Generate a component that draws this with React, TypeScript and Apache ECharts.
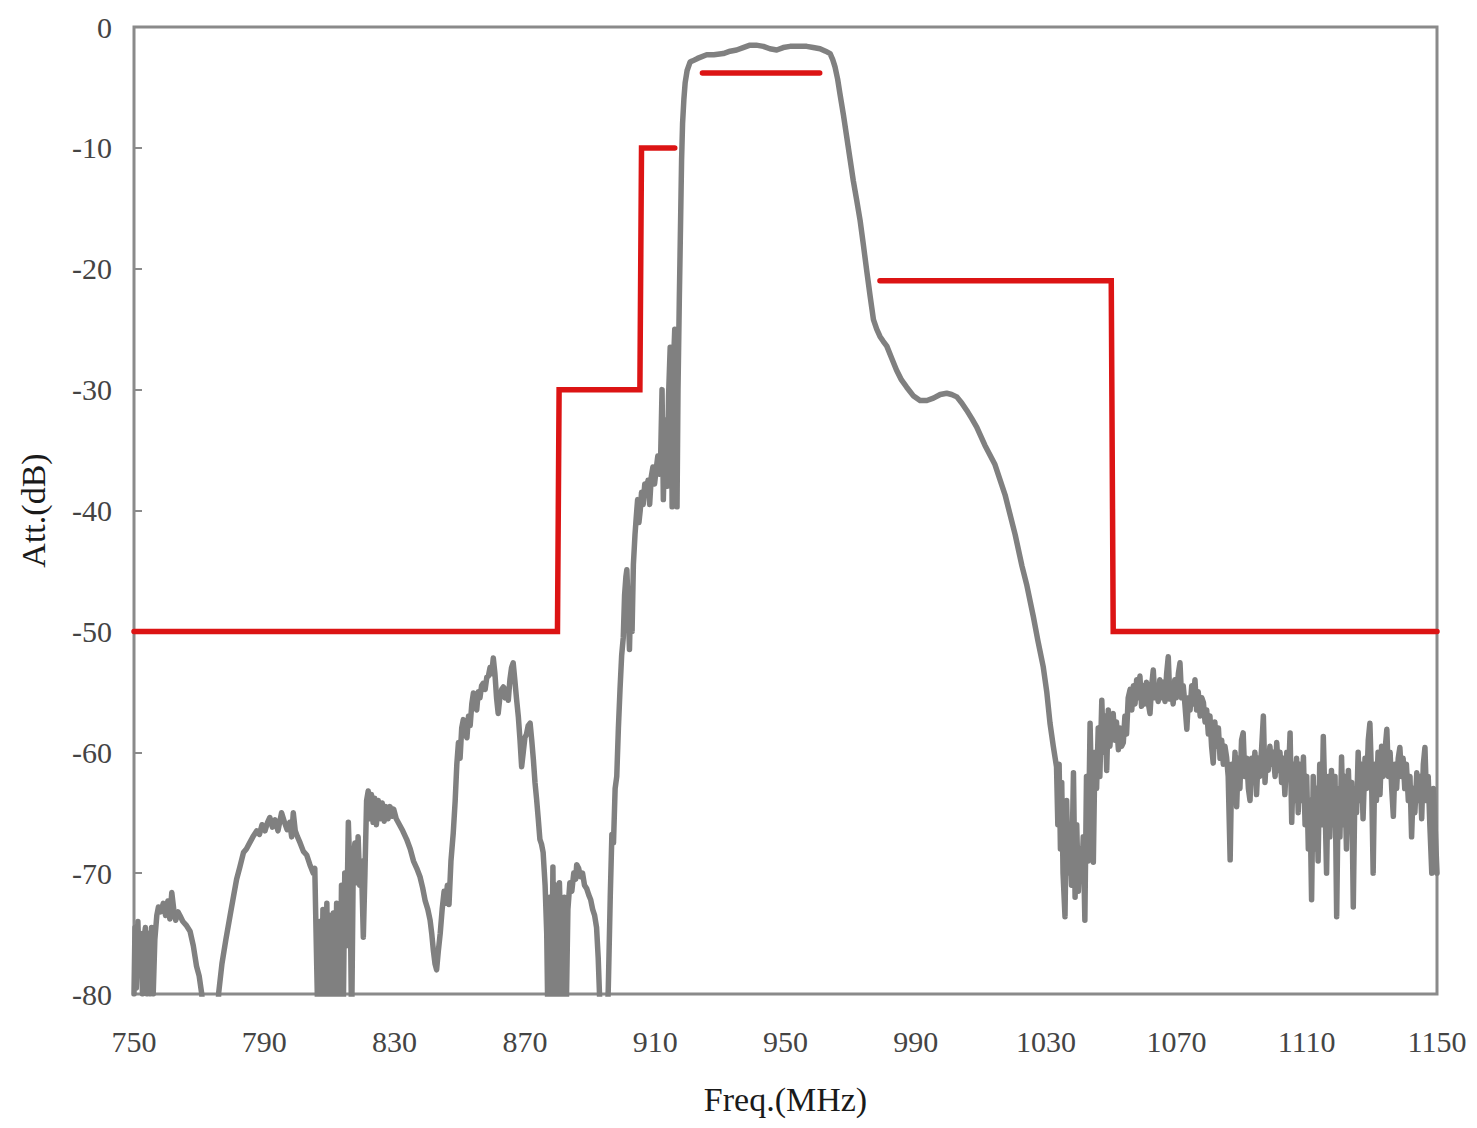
import React, { useEffect, useRef } from "react";
import * as echarts from "echarts";

const xTicks = { min: 750, max: 1150, interval: 40 };
const yTicks = { min: -80, max: 0, interval: 10 };

// Mask limit lines (Freq MHz, Att dB)
const maskStairs: [number, number][] = [
  [750, -50], [880, -50], [880.5, -30], [905.3, -30], [905.8, -10], [916, -10],
];
const maskPassband: [number, number][] = [
  [924.5, -3.8], [960.5, -3.8],
];
const maskUpper: [number, number][] = [
  [979, -21], [1050, -21], [1050.6, -50], [1150, -50],
];

// Measured response (Freq MHz, Att dB)
const responseA: [number, number][] = [
  [750.0,-80],[750.3,-74.5],[750.7,-79.5],[751.2,-74],[751.6,-78],[752.1,-75],[752.6,-80],[753.0,-75.5],[753.5,-74.5],[754.0,-80],[754.4,-75],[754.9,-80],[755.4,-74.5],[755.9,-80],[756.4,-75.5],[757.0,-73.5],[757.5,-72.8],[758.2,-73.2],[759.0,-72.5],[759.7,-73.5],[760.4,-72.3],[761.0,-73.8],[761.6,-71.6],[762.2,-73],[762.8,-73.9],[763.5,-73.2],[764.1,-73.5],[765.0,-74],[766.0,-74.3],[767.2,-74.8],[768.2,-76],[769.2,-77.7],[770.0,-78.5],[770.8,-80],[771.5,-83],
  [775.5,-83],[776.0,-79.9],[777.0,-77.5],[778.2,-75.5],[779.5,-73.5],[780.5,-72],[781.5,-70.5],[782.5,-69.5],[783.6,-68.3],[784.5,-68],[785.5,-67.5],[786.5,-67],[787.7,-66.5],[788.5,-66.8],[789.3,-66],[790.2,-66.5],[791.0,-65.8],[791.7,-65.4],[792.5,-66.2],[793.3,-65.6],[794.2,-66.5],[795.3,-65.0],[796.2,-65.8],[797.0,-66.4],[797.8,-65.8],[798.4,-67],[798.9,-65.0],[799.5,-66.5],[800.2,-67],[801.0,-67.5],[802.0,-68.2],[803.0,-68.5],[804.0,-69.3],[805.0,-70],[805.5,-69.6],[806.1,-77.8],
];
const responseB: [number, number][] = [
  [806.5,-83],[807.0,-74],[807.5,-83],[808.0,-73],[808.5,-83],[809.2,-72.5],[809.7,-83],[810.2,-73.5],[810.7,-83],[811.2,-73.3],[811.7,-83],[812.2,-72.5],[812.7,-76],[813.2,-83],[813.7,-71],[814.2,-83],[814.7,-70],[815.2,-76],[815.8,-65.8],[816.3,-70],[816.8,-83],
  [817.3,-69.5],[817.8,-67.5],[818.3,-70.8],[818.8,-67],[819.3,-71],[819.8,-69],[820.4,-75.3],[820.9,-70],[821.4,-64],[821.9,-63.2],[822.4,-65.5],[822.9,-63.5],[823.4,-65.8],[823.9,-63.8],[824.4,-66],[825.0,-64],[825.6,-65.5],[826.2,-64.2],[826.8,-65.7],[827.4,-64.5],[828.0,-65.5],[828.6,-64.5],[829.2,-65.3],[829.7,-64.7],[830.5,-65.5],[831.5,-66],[832.5,-66.5],[833.7,-67.2],[834.8,-68],[835.8,-69],[836.8,-69.6],[837.8,-70.3],[838.6,-71.2],[839.4,-72.3],[840.2,-73],[840.9,-73.9],[841.4,-75],[841.9,-76.4],[842.4,-77.5],[842.9,-78],[843.4,-76.5],[844.0,-75],[844.6,-73],[845.2,-71.5],[845.7,-72.5],[846.2,-71],[846.7,-72.6],[847.3,-69],[848.0,-66.7],[848.6,-64],[849.1,-61],[849.6,-59.2],[850.1,-60.5],[850.6,-58],[851.1,-57.3],[851.6,-58.5],[852.2,-58.8],[852.7,-57],[853.2,-57.8],[853.7,-56],[854.2,-55.1],[854.7,-56.2],[855.2,-56.5],[855.7,-55],[856.2,-55.5],[856.7,-54.5],[857.2,-54.3],[857.8,-54.8],[858.3,-53.8],[858.8,-53.7],[859.3,-53],[859.8,-53.5],[860.3,-52.2],[860.8,-53.5],[861.3,-55.5],[861.8,-56.8],[862.3,-55.5],[862.9,-54.8],[863.4,-54.6],[863.9,-55.5],[864.4,-54.8],[864.9,-55.7],[865.4,-54],[865.9,-53],[866.4,-52.6],[866.9,-54],[867.4,-55.5],[868.0,-57.1],[868.5,-59],[869.0,-61.2],[869.5,-60],[870.0,-58.8],[870.5,-58.5],[871.0,-57.8],[871.6,-57.6],[872.1,-59],[872.6,-60.6],[873.1,-62.5],[873.6,-63.9],[874.1,-65.5],[874.6,-67.2],[875.1,-67.6],[875.6,-68.3],[876.2,-71],[876.7,-75],
  [877.1,-83],[877.6,-72],[878.1,-83],[878.6,-69.5],[879.1,-83],[879.6,-71],[880.1,-83],[880.6,-70.8],[881.1,-76],[881.6,-83],[882.1,-72],[882.6,-83],[883.2,-73],[883.8,-70.8],[884.4,-71.5],[885.0,-70],[885.6,-70.5],[885.9,-69.3],[886.5,-69.6],[887.1,-70.3],[887.7,-70],[888.3,-71],[889.0,-71.3],[889.6,-71.8],[890.2,-72.2],[890.8,-73],[891.4,-73.5],[892.0,-74.5],[892.5,-77],[892.9,-80],[893.3,-83],
];
const responseC: [number, number][] = [
  [895.2,-83],[895.6,-79.5],[896.2,-72],[896.7,-66.8],[897.2,-67.5],[897.7,-63],[898.2,-62],[898.7,-58],[899.2,-54.8],[899.7,-52],[900.2,-50.5],[900.6,-47],[901.0,-45.5],[901.3,-44.9],[901.7,-48],[902.1,-51.5],[902.5,-47],[902.9,-50],[903.3,-44.5],[903.8,-42],[904.2,-40.5],[904.6,-39.1],[905.0,-41],[905.4,-40],[905.8,-38.5],[906.3,-39.5],[906.8,-37.8],[907.3,-38.5],[907.8,-37.5],[908.3,-39.5],[908.8,-37.2],[909.3,-36.4],[909.8,-37.8],[910.3,-36.6],[910.8,-35.5],[911.3,-37],[911.7,-35.2],[912.1,-30],[912.5,-39.1],[912.9,-34.5],[913.3,-32.5],[913.7,-38],[914.1,-30.5],[914.6,-26.5],[915.0,-32],[915.2,-39.7],[915.6,-28],[916.0,-25],[916.4,-34],[916.7,-39.7],[917.0,-30],[917.4,-22.6],[917.8,-16],[918.1,-11],[918.4,-8],[918.8,-6],[919.2,-4.6],[919.8,-3.6],[920.7,-2.9],
  [921.5,-2.8],[923.0,-2.6],[925.8,-2.3],[928.0,-2.3],[930.9,-2.2],[933.0,-2.0],[935.0,-1.9],[937.0,-1.7],[939.1,-1.5],[941.0,-1.5],[943.2,-1.6],[945.2,-1.8],[947.3,-1.9],[949.3,-1.7],[951.4,-1.6],[954.0,-1.6],[956.5,-1.6],[958.5,-1.7],[960.6,-1.8],[962.3,-2.0],[963.7,-2.2],[964.5,-2.7],[965.2,-3.3],[966.0,-4.3],[966.7,-5.5],[967.8,-7.3],[968.8,-9.1],[969.8,-10.9],[970.8,-12.7],[971.9,-14.4],[972.9,-16.0],[973.9,-18.0],[974.9,-20.1],[976.0,-22.3],[977.0,-24.2],[978.0,-25.0],[979.0,-25.6],[980.0,-26.0],[981.1,-26.4],[982.6,-27.4],[984.1,-28.4],[985.6,-29.2],[987.2,-29.8],[989.2,-30.5],[991.3,-30.9],[993.4,-30.9],[995.4,-30.7],[997.5,-30.4],[999.5,-30.3],[1001.0,-30.4],[1002.6,-30.6],[1004.1,-31.1],[1005.6,-31.7],[1007.2,-32.4],[1008.7,-33.1],[1011.2,-34.6],[1014.3,-36.2],[1017.4,-38.7],[1020.5,-42.0],[1022.6,-44.6],[1024.1,-46.2],[1026.1,-48.8],[1027.5,-50.8],[1029.1,-52.9],[1030.2,-55],[1031.2,-57.6],[1032.2,-59.5],[1033.2,-61.2],
];
const responseD: [number, number][] = [
  [1033.6,-66],[1034.0,-61],[1034.4,-68],[1034.8,-62.5],[1035.2,-70],[1035.8,-73.6],[1036.3,-64],[1036.8,-70],[1037.3,-66],[1037.8,-71],[1038.4,-61.7],[1038.9,-72],[1039.4,-66],[1039.9,-71.5],[1040.4,-68],[1040.9,-70.5],[1041.4,-67],[1041.9,-73.9],[1042.4,-62],[1042.9,-69],[1043.5,-57.6],[1044.0,-64],[1044.5,-69.1],[1045.0,-60],[1045.5,-63],[1046.0,-58],[1046.5,-62],[1047.1,-55.7],[1047.6,-60],[1048.1,-57],[1048.6,-61.5],[1049.1,-56.5],[1049.6,-59.5],[1050.1,-57],[1050.6,-56.8],[1051.1,-59],[1051.6,-57.5],[1052.2,-59.8],[1052.7,-58],[1053.2,-59.5],[1053.7,-59.2],[1054.2,-57],[1054.7,-58.5],[1055.2,-55.5],[1055.8,-54.8],[1056.3,-56.5],[1056.8,-54.5],[1057.3,-56],[1057.8,-54],[1058.3,-55.5],[1058.8,-53.7],[1059.3,-56.2],[1059.8,-54.5],[1060.3,-56],[1060.8,-54.2],[1061.4,-56],[1061.9,-56.8],[1062.4,-54.5],[1062.9,-53.2],[1063.4,-55.5],[1063.9,-54.5],[1064.4,-55.8],[1064.9,-54],[1065.4,-55.5],[1065.9,-54.2],[1066.5,-55.8],[1067.0,-53.5],[1067.5,-52.1],[1068.0,-55.6],[1068.5,-54.5],[1069.0,-56],[1069.5,-54],[1070.0,-55.5],[1070.6,-53.5],[1071.1,-52.6],[1071.6,-55.5],[1072.1,-54.5],[1072.6,-56],[1073.2,-58.1],[1073.7,-55.5],[1074.2,-56.5],[1074.7,-54.5],[1075.2,-56],[1075.7,-54],[1076.2,-56.5],[1076.7,-55],[1077.3,-57],[1077.8,-55.5],[1078.3,-55.9],[1078.8,-57.5],[1079.3,-56.5],[1079.8,-58.5],[1080.3,-57],[1080.8,-59.5],[1081.3,-60.9],[1081.8,-57.5],[1082.3,-59.5],[1082.9,-58],[1083.4,-60.5],[1083.9,-59],[1084.4,-61],[1084.9,-59.5],[1085.4,-60.4],[1085.9,-62],[1086.5,-68.9],[1087.0,-61],[1087.5,-63],[1088.0,-60],[1088.5,-64.5],[1089.0,-60.5],[1089.5,-63],[1090.0,-59],[1090.5,-58.4],[1091.0,-62],[1091.6,-60.5],[1092.1,-63],[1092.6,-64],[1093.1,-60.5],[1093.6,-62.5],[1094.1,-60],[1094.6,-63.5],[1095.1,-60.5],[1095.6,-62],[1096.2,-59.5],[1096.7,-57],[1097.2,-62.5],[1097.7,-60],[1098.2,-61.5],[1098.7,-59.5],[1099.2,-61],[1099.7,-60],[1100.3,-62],[1100.8,-59.2],[1101.3,-61.5],[1101.8,-60],[1102.3,-62.5],[1102.8,-60.5],[1103.3,-63.5],[1103.9,-60],[1104.4,-62],[1104.9,-58.4],[1105.4,-65.8],[1105.9,-61],[1106.4,-64],[1106.9,-60.5],[1107.4,-65],[1107.9,-61],[1108.4,-64],[1109.0,-60.4],[1109.5,-66],[1110.0,-62],[1110.5,-68],[1111.0,-64],[1111.5,-72.2],[1112.0,-62],[1112.5,-68],[1113.0,-63],[1113.5,-69],[1114.0,-61],[1114.6,-66],[1115.1,-58.7],[1115.6,-64],[1116.1,-70],[1116.6,-62],[1117.1,-67],[1117.6,-61.5],[1118.1,-66],[1118.7,-62],[1119.2,-73.6],[1119.7,-63],[1120.2,-67],[1120.7,-60.4],[1121.2,-66],[1121.7,-62],[1122.2,-68],[1122.8,-61.5],[1123.3,-66],[1123.8,-62.5],[1124.3,-72.8],[1124.8,-63],[1125.3,-65],[1125.8,-60],[1126.3,-64],[1126.8,-61],[1127.3,-65.5],[1127.9,-60.5],[1128.4,-63],[1128.9,-59],[1129.4,-57.6],[1129.9,-62],[1130.4,-70],[1130.9,-61],[1131.4,-64],[1131.9,-60],[1132.5,-63.5],[1133.0,-59.5],[1133.5,-62],[1134.0,-60],[1134.6,-58.1],[1135.1,-62],[1135.6,-60],[1136.1,-63],[1136.6,-65.3],[1137.1,-61],[1137.6,-63],[1138.1,-60.5],[1138.6,-59.6],[1139.1,-62],[1139.6,-60.5],[1140.1,-63],[1140.6,-61],[1141.2,-64],[1141.7,-62],[1142.2,-67],[1142.7,-63],[1143.2,-65],[1143.8,-61.7],[1144.3,-64],[1144.8,-62],[1145.3,-65.5],[1145.8,-61],[1146.3,-59.6],[1146.8,-64],[1147.3,-62],[1147.8,-66],[1148.4,-70],[1148.9,-63],[1149.4,-66],[1150.0,-70],
];

const response = [...responseA, ...responseB, ...responseC, ...responseD];

const GRAY = "#808080";
const RED = "#dc1414";
const FONT = "'Liberation Serif', 'DejaVu Serif', serif";

export default function App() {
  const ref = useRef<HTMLDivElement>(null);
  useEffect(() => {
    if (!ref.current) return;
    const chart = echarts.init(ref.current, undefined, { renderer: "svg" });
    const redLine = (data: [number, number][], name: string) => ({
      name,
      type: "line",
      data,
      showSymbol: false,
      symbol: "none",
      z: 5,
      lineStyle: { color: RED, width: 5.5, cap: "round", join: "miter" },
    });
    chart.setOption({
      animation: false,
      backgroundColor: "#ffffff",
      grid: {
        left: 134, top: 27, right: 40, bottom: 134,
        show: true, borderColor: "#8a8a8a", borderWidth: 3,
        backgroundColor: "transparent",
      },
      xAxis: {
        type: "value",
        min: xTicks.min, max: xTicks.max, interval: xTicks.interval,
        name: "Freq.(MHz)",
        nameLocation: "middle",
        nameGap: 88,
        nameTextStyle: { fontFamily: FONT, fontSize: 34, color: "#1a1a1a" },
        axisLine: { show: false },
        axisTick: { show: false },
        splitLine: { show: false },
        axisLabel: {
          fontFamily: FONT, fontSize: 30, color: "#444444", margin: 32,
          formatter: (v: number) => String(v),
        },
      },
      yAxis: {
        type: "value",
        min: yTicks.min, max: yTicks.max, interval: yTicks.interval,
        name: "Att.(dB)",
        nameLocation: "middle",
        nameGap: 84,
        nameTextStyle: { fontFamily: FONT, fontSize: 34, color: "#1a1a1a" },
        axisLine: { show: false },
        axisTick: { show: true, inside: true, length: 8, lineStyle: { color: "#8a8a8a", width: 2 } },
        splitLine: { show: false },
        axisLabel: {
          fontFamily: FONT, fontSize: 30, color: "#444444", margin: 22,
          formatter: (v: number) => String(v),
        },
      },
      series: [
        {
          name: "response",
          type: "line",
          data: response,
          showSymbol: false,
          symbol: "none",
          clip: true,
          z: 3,
          lineStyle: { color: GRAY, width: 5.5, join: "round", cap: "round" },
        },
        redLine(maskStairs, "mask1"),
        redLine(maskPassband, "mask2"),
        redLine(maskUpper, "mask3"),
      ],
    });
    return () => chart.dispose();
  }, []);
  return (
    <div
      ref={ref}
      style={{ position: "fixed", left: 0, top: 0, width: 1477, height: 1128, background: "#fff" }}
    />
  );
}
